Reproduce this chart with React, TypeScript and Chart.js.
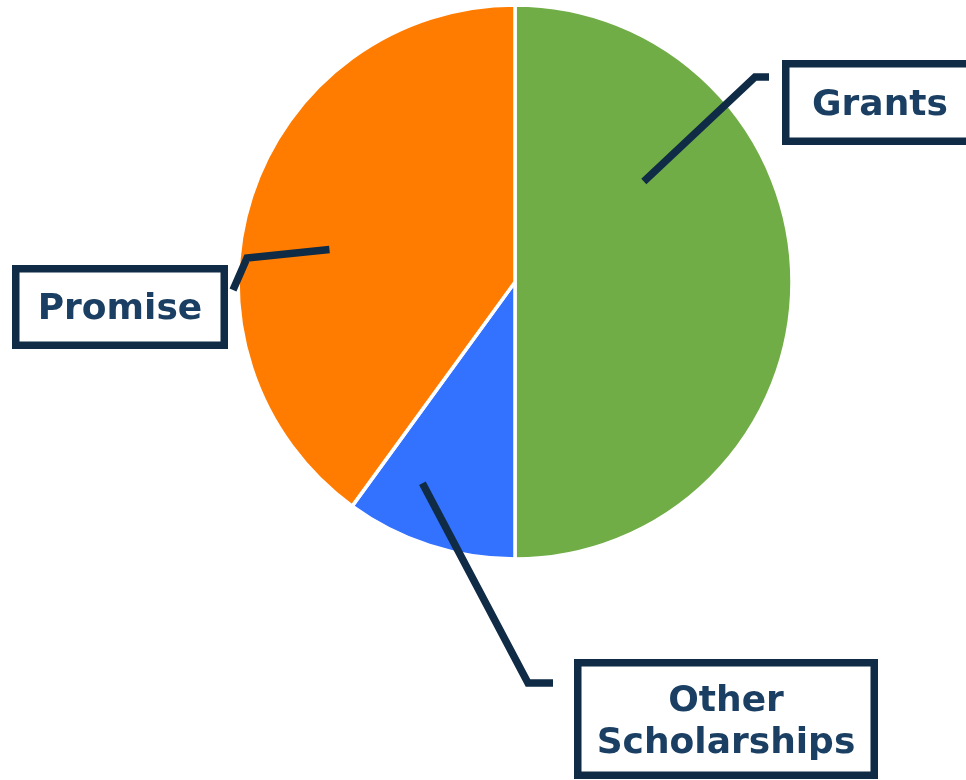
import React, { useEffect, useRef } from "react";
import { Chart, registerables } from "chart.js";

Chart.register(...registerables);

const categories = ["Grants", "Other Scholarships", "Promise"];
const shares = [50, 10, 40];
const labelLines = [["Grants"], ["Other", "Scholarships"], ["Promise"]];

const sliceColors = ["#70AD47", "#3371FF", "#FF7C00"];
const lineColor = "#0F2B46";
const textColor = "#1B3F62";

// layout of callouts: leader start as fraction along arc (t) and radius (f),
// other points as pixel offsets from the pie centre
const calloutLayout = [
  { t: 0.289, f: 0.59, path: [[240, -205], [254, -205]], box: [267, -222, 212, 85], textX: -8, textY: [3] },
  { t: 0.686, f: 0.8, path: [[13, 401], [38, 401]], box: [59, 377, 304, 120], textX: 0, textY: [-17, 25] },
  { t: 0.444, f: 0.68, path: [[-268, -24], [-282, 8]], box: [-503, -17, 216, 84], textX: 0, textY: [3] },
];

const calloutPlugin = {
  id: "callouts",
  afterDraw(chart: any) {
    const meta = chart.getDatasetMeta(0);
    const ctx = chart.ctx;
    ctx.save();
    meta.data.forEach((arc: any, i: number) => {
      const L = calloutLayout[i];
      const { x, y, startAngle, endAngle, outerRadius } = arc.getProps(
        ["x", "y", "startAngle", "endAngle", "outerRadius"],
        true
      );
      const a = startAngle + L.t * (endAngle - startAngle);
      const sx = x + Math.cos(a) * outerRadius * L.f;
      const sy = y + Math.sin(a) * outerRadius * L.f;
      ctx.strokeStyle = lineColor;
      ctx.lineWidth = 7.5;
      ctx.lineJoin = "miter";
      ctx.lineCap = "butt";
      ctx.beginPath();
      ctx.moveTo(sx, sy);
      L.path.forEach((p) => ctx.lineTo(x + p[0], y + p[1]));
      ctx.stroke();
      const [bx, by, bw, bh] = L.box;
      const left = x + bx;
      const top = y + by;
      ctx.fillStyle = "#FFFFFF";
      ctx.fillRect(left, top, bw, bh);
      ctx.strokeRect(left + 3.75, top + 3.75, bw - 7.5, bh - 7.5);
      ctx.fillStyle = textColor;
      ctx.font = "bold 36px 'DejaVu Sans'";
      ctx.textAlign = "center";
      ctx.textBaseline = "middle";
      labelLines[i].forEach((line, k) => {
        ctx.fillText(line, left + bw / 2 + L.textX, top + bh / 2 + L.textY[k]);
      });
    });
    ctx.restore();
  },
};

export default function App() {
  const ref = useRef<HTMLCanvasElement>(null);
  useEffect(() => {
    if (!ref.current) return;
    const chart = new Chart(ref.current, {
      type: "pie",
      data: {
        labels: categories,
        datasets: [
          {
            data: shares,
            backgroundColor: sliceColors,
            borderColor: "#FFFFFF",
            borderWidth: 3.5,
            radius: 277,
          } as any,
        ],
      },
      options: {
        responsive: false,
        animation: false,
        layout: { padding: { left: 240, right: 176, top: 7, bottom: 223 } },
        plugins: { legend: { display: false }, tooltip: { enabled: false } },
      },
      plugins: [calloutPlugin],
    });
    return () => chart.destroy();
  }, []);
  return (
    <div style={{ position: "fixed", left: 0, top: 0, width: 966, height: 780, background: "#fff" }}>
      <canvas ref={ref} width={966} height={780} style={{ display: "block" }} />
    </div>
  );
}
